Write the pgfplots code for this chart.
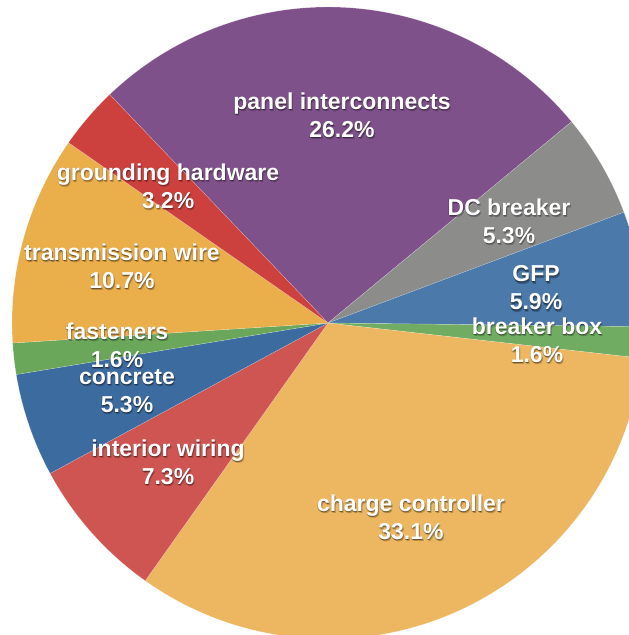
\documentclass[border=0pt]{standalone}
\usepackage{pgfplots}
\pgfplotsset{compat=1.18}
\usepackage{fontspec}
\setmainfont{Liberation Sans}
\definecolor{cPanel}{HTML}{7F518A}
\definecolor{cDC}{HTML}{8C8D8B}
\definecolor{cGFP}{HTML}{4B79A9}
\definecolor{cBB}{HTML}{70AC62}
\definecolor{cCC}{HTML}{EDB660}
\definecolor{cIW}{HTML}{CF5552}
\definecolor{cCon}{HTML}{3C6BA0}
\definecolor{cFas}{HTML}{6AA75B}
\definecolor{cTW}{HTML}{EAAE4B}
\definecolor{cGH}{HTML}{CC413D}
\newcommand\lbl[4]{%
  \node[text=black,opacity=0.22,align=center,inner sep=0pt,xshift=0.5bp,yshift=-1.5bp,font=\fontsize{23bp}{28bp}\selectfont\bfseries] at (axis cs:#1,#2) {#3\\#4};
  \node[text=black,opacity=0.22,align=center,inner sep=0pt,xshift=1.2bp,yshift=-2.2bp,font=\fontsize{23bp}{28bp}\selectfont\bfseries] at (axis cs:#1,#2) {#3\\#4};
  \node[text=black,opacity=0.22,align=center,inner sep=0pt,xshift=-0.4bp,yshift=-0.8bp,font=\fontsize{23bp}{28bp}\selectfont\bfseries] at (axis cs:#1,#2) {#3\\#4};
  \node[text=white,align=center,inner sep=0pt,font=\fontsize{23bp}{28bp}\selectfont\bfseries] at (axis cs:#1,#2) {#3\\#4};}
\newcommand\pieslice[3]{%
  \fill[#3,draw=white,draw opacity=0.35,line width=0.4bp] (axis cs:328,312) -- ++(#1:316bp) arc[start angle=#1,end angle=#2,radius=316bp] -- cycle;}
\begin{document}
\begin{tikzpicture}
% slice values (percent), clockwise from the panel interconnects slice
\def\vPanel{26.2}\def\vDC{5.3}\def\vGFP{5.9}\def\vBB{1.6}\def\vCC{33.1}
\def\vIW{7.3}\def\vCon{5.3}\def\vFas{1.6}\def\vTW{10.7}\def\vGH{3.2}
\pgfmathsetmacro\k{360/100.2}
\pgfmathsetmacro\aA{133.7}
\pgfmathsetmacro\aB{\aA-\vPanel*\k}
\pgfmathsetmacro\aC{\aB-\vDC*\k}
\pgfmathsetmacro\aD{\aC-\vGFP*\k}
\pgfmathsetmacro\aE{\aD-\vBB*\k}
\pgfmathsetmacro\aF{\aE-\vCC*\k}
\pgfmathsetmacro\aG{\aF-\vIW*\k}
\pgfmathsetmacro\aH{\aG-\vCon*\k}
\pgfmathsetmacro\aI{\aH-\vFas*\k}
\pgfmathsetmacro\aJ{\aI-\vTW*\k}
\pgfmathsetmacro\aK{\aA-360}
\begin{axis}[width=629bp,height=635bp,scale only axis,
  xmin=0,xmax=629,ymin=0,ymax=635,hide axis,clip=true]
\pieslice{\aA}{\aB}{cPanel}
\pieslice{\aB}{\aC}{cDC}
\pieslice{\aC}{\aD}{cGFP}
\pieslice{\aD}{\aE}{cBB}
\pieslice{\aE}{\aF}{cCC}
\pieslice{\aF}{\aG}{cIW}
\pieslice{\aG}{\aH}{cCon}
\pieslice{\aH}{\aI}{cFas}
\pieslice{\aI}{\aJ}{cTW}
\pieslice{\aJ}{\aK}{cGH}
\lbl{342}{520}{panel interconnects}{26.2\%}
\lbl{509}{414}{DC breaker}{5.3\%}
\lbl{536}{347}{GFP}{5.9\%}
\lbl{537}{295}{breaker box}{1.6\%}
\lbl{411}{118}{charge controller}{33.1\%}
\lbl{168}{173}{interior wiring}{7.3\%}
\lbl{127}{244}{concrete}{5.3\%}
\lbl{117}{290}{fasteners}{1.6\%}
\lbl{122}{369}{transmission wire}{10.7\%}
\lbl{168}{449}{grounding hardware}{3.2\%}
\end{axis}
\pgfresetboundingbox
\path[use as bounding box] (current axis.south west) rectangle (current axis.north east);
\end{tikzpicture}
\end{document}
